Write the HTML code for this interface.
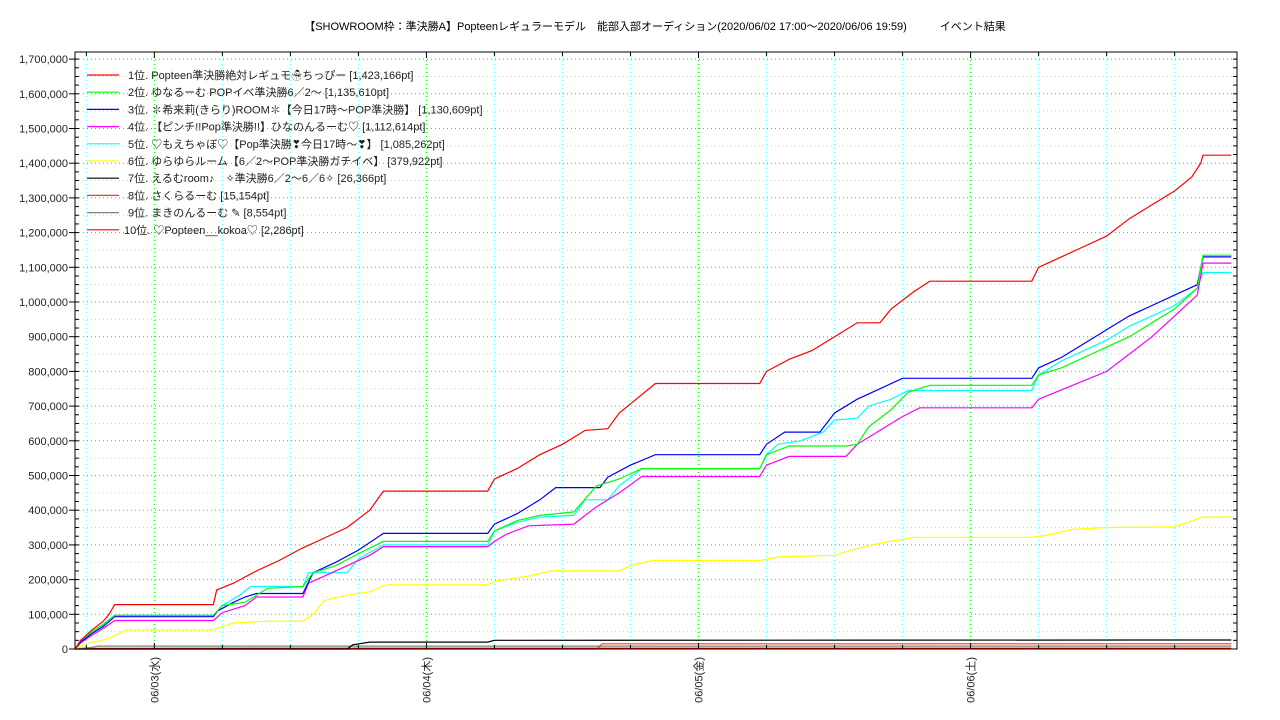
<!DOCTYPE html>
<html><head><meta charset="utf-8"><style>
body{margin:0;background:#fff;}
svg{display:block;font-family:"Liberation Sans","Noto Sans CJK JP",sans-serif;}
</style></head><body>
<svg id="chart" width="1280" height="720">
<text x="655" y="30" font-size="11" text-anchor="middle" fill="#000">【SHOWROOM枠：準決勝A】Popteenレギュラーモデル　能部入部オーディション(2020/06/02 17:00～2020/06/06 19:59)　　　イベント結果</text>
<g id="grid"></g><g id="series"></g>
<rect x="75" y="52" width="1162" height="597" fill="none" stroke="#000" stroke-width="1"/>
<g id="axes"></g><g id="legend"></g>
</svg>
<script>
const yTicks=[0,100000,200000,300000,400000,500000,600000,700000,800000,900000,1000000,1100000,1200000,1300000,1400000,1500000,1600000,1700000];
const dayLabels=["06/03(水)","06/04(木)","06/05(金)","06/06(土)"];
const dayHours=[7,31,55,79];
const names=["1位. Popteen準決勝絶対レギュモ☃ちっぴー [1,423,166pt]","2位. ゆなるーむ POPイベ準決勝6／2～ [1,135,610pt]","3位. ✽希来莉(きらり)ROOM✽【今日17時～POP準決勝】 [1,130,609pt]","4位. 【ピンチ!!Pop準決勝!!】ひなのんるーむ♡ [1,112,614pt]","5位. ♡もえちゃぼ♡【Pop準決勝❣今日17時～❣】 [1,085,262pt]","6位. ゆらゆらルーム【6／2～POP準決勝ガチイベ】 [379,922pt]","7位. えるむroom♪　✧準決勝6／2～6／6✧ [26,366pt]","8位. さくらるーむ [15,154pt]","9位. まきのんるーむ ✎ [8,554pt]","10位. ♡Popteen__kokoa♡ [2,286pt]"];
const colors=["#ff0000","#00ff00","#0000ff","#ff00ff","#00ffff","#ffff00","#000000","#ff4000","#808080","#ff0000"];
// [hours since 06/02 17:00, value in thousands]
const s1=[[0,0],[0.5,25],[1.5,55],[2.5,80],[3,100],[3.5,128],[12.2,128],[12.5,170],[14,190],[16,225],[18,255],[20,290],[22,320],[24,350],[26,400],[27.2,455],[36.4,455],[37,490],[39,520],[41,560],[43,590],[45,630],[47,635],[48,680],[49.5,720],[51.2,765],[60.4,765],[61,800],[63,835],[65,860],[67,900],[69,940],[71,940],[72,980],[74,1030],[75.4,1060],[84.4,1060],[85,1100],[87,1130],[89,1160],[91,1190],[93,1240],[95,1280],[97,1320],[98.5,1360],[99.3,1400],[99.5,1423],[102,1423]];
const s2=[[0,0],[0.5,25],[1.5,50],[2.5,70],[3.5,97],[12.2,97],[13,125],[15,135],[16,155],[17,175],[20.1,180],[21,220],[23,240],[25,275],[27.2,310],[36.4,310],[37,340],[39,370],[41,385],[44,395],[46,470],[48,490],[50,520],[60.4,520],[61,560],[63,585],[68,585],[69,590],[70,640],[72,690],[73.5,740],[75.4,760],[84.4,760],[85,790],[87,810],[89,840],[91,870],[93,900],[95,940],[97,980],[99,1040],[99.5,1135],[102,1135]];
const s3=[[0,0],[0.5,20],[1.5,45],[2.5,65],[3.5,93],[12.2,93],[12.6,110],[14,135],[15,150],[16,160],[20.1,160],[21,220],[23,250],[25,285],[27.2,333],[36.4,333],[37,360],[39,390],[41,430],[42.4,465],[46.3,465],[47,495],[49,530],[51.2,560],[60.4,560],[61,590],[62.6,625],[65.7,625],[67,680],[69,720],[71,750],[73,780],[84.4,780],[85,810],[87,840],[89,880],[91,920],[93,960],[95,990],[97,1020],[99,1050],[99.5,1130],[102,1130]];
const s4=[[0,0],[0.5,18],[1.5,40],[2.5,60],[3.5,82],[12.2,82],[13,105],[15,125],[16,150],[20.1,150],[20.6,190],[22,210],[24,240],[26,270],[27.2,295],[36.4,295],[37,310],[38,330],[40,355],[44,360],[46,410],[48,450],[50,497],[60.4,497],[61,530],[63,555],[68,555],[69,590],[71,630],[73,670],[74.5,695],[84.4,695],[85,720],[88,760],[91,800],[93,850],[95,900],[97,960],[99,1020],[99.5,1112],[102,1112]];
const s5=[[0,0],[0.5,22],[1.5,50],[2.5,72],[3.5,97],[12.2,97],[13,125],[14.5,155],[15.5,180],[20.1,180],[20.6,220],[24,220],[25,260],[27.2,300],[36.4,300],[37,340],[39,365],[41,380],[44,385],[45,430],[47,430],[48,470],[50,520],[60.4,520],[61,560],[62,590],[64,600],[66,625],[67,660],[69,665],[70,700],[72,720],[73.5,745],[84.4,745],[85,790],[87,830],[89,860],[91,890],[93,930],[95,960],[97,990],[99,1040],[99.5,1085],[102,1085]];
const s6=[[0,0],[1,15],[3,30],[4.5,55],[12.2,55],[13,65],[14,75],[17,80],[20.1,80],[21,100],[22,140],[24,155],[26,165],[27.5,185],[36.4,185],[37,195],[40,210],[42,225],[48,225],[49,240],[51,255],[60.4,255],[62,265],[67,270],[69,290],[71,305],[74,322],[84.4,322],[86,330],[88,345],[91,350],[97,352],[99,375],[99.5,380],[102,380]];
const s7=[[0,0],[24,0],[24.5,12],[26,20],[36.4,20],[37,25],[102,26]];
const s8=[[0,0],[46,0],[46.5,15],[102,15]];
const s9=[[0,0],[1.5,5],[2,8.5],[102,8.5]];
const s10=[[0,0],[1,2],[102,2.3]];
const allSeries=[s1,s2,s3,s4,s5,s6,s7,s8,s9,s10];

const X0=75,X1=1237,Y0=649,HMAX=102.5,VMAX=1720;
const xs=h=>X0+h*(X1-X0)/HMAX;
const ys=v=>Y0-v*0.347;
const NS="http://www.w3.org/2000/svg";
function mk(tag,attrs,parent){const e=document.createElementNS(NS,tag);for(const k in attrs)e.setAttribute(k,attrs[k]);parent.appendChild(e);return e;}
const grid=document.getElementById('grid'),axes=document.getElementById('axes'),ser=document.getElementById('series'),leg=document.getElementById('legend');
// horizontal grid
for(let v=50;v<=1700;v+=50){
  const l=mk('line',{x1:X0,x2:X1,y1:ys(v),y2:ys(v),stroke:v%100===0?'#00ee00':'#66ffff','stroke-width':1,'stroke-dasharray':'1,3'},grid);
  
  
}
// vertical grid every 6h
for(let h=1;h<HMAX;h+=6){
  const isDay=((h-7)%24===0);
  const l=mk('line',{x1:xs(h),x2:xs(h),y1:52,y2:Y0,stroke:isDay?'#00ee00':'#66ffff','stroke-width':1,'stroke-dasharray':'1,3'},grid);
  
  
  const t=mk('line',{x1:xs(h),x2:xs(h),y1:Y0,y2:Y0-(isDay?6:4),stroke:'#000'},axes);
  
  
  const t2=mk('line',{x1:xs(h),x2:xs(h),y1:52,y2:52+(isDay?6:4),stroke:'#000'},axes);
  
  
}
// minor y ticks
for(let v=25;v<1720;v+=25){
  const t=mk('line',{x1:X0,x2:X0+4,y1:ys(v),y2:ys(v),stroke:'#000'},axes);
  
  
  const t2=mk('line',{x1:X1,x2:X1-4,y1:ys(v),y2:ys(v),stroke:'#000'},axes);
  
  
}
yTicks.forEach(v=>{
  const y=ys(v/1000);
  const t=mk('line',{x1:X0-6,x2:X0,y1:y,y2:y,stroke:'#000'},axes);
  
  
  const lb=mk('text',{x:68,y:y+4,'font-size':11,'text-anchor':'end',fill:'#222'},axes);
  lb.textContent=v.toLocaleString('en-US');
  
  
});
dayLabels.forEach((d,i)=>{
  const x=xs(dayHours[i]);
  const lb=mk('text',{x:0,y:0,'font-size':11,'text-anchor':'end',fill:'#222',transform:`translate(${x+4},657) rotate(-90)`},axes);
  lb.textContent=d;
  
  
});
// series (draw lower ranks first)
for(let i=allSeries.length-1;i>=0;i--){
  const pts=allSeries[i].map(p=>xs(p[0]).toFixed(1)+','+ys(p[1]).toFixed(1)).join(' ');
  const pl=mk('polyline',{points:pts,fill:'none',stroke:colors[i],'stroke-width':1.2},ser);
  
  
}
names.forEach((n,i)=>{
  const y=75+i*17.2;
  const g=mk('g',{},leg);
  
  
  mk('line',{x1:87,x2:119,y1:y,y2:y,stroke:colors[i],'stroke-width':1.2},g);
  const t=mk('text',{x:i===9?124:128,y:y+4,'font-size':11,fill:'#222'},g);
  t.textContent=n;
});
</script>
</body></html>
